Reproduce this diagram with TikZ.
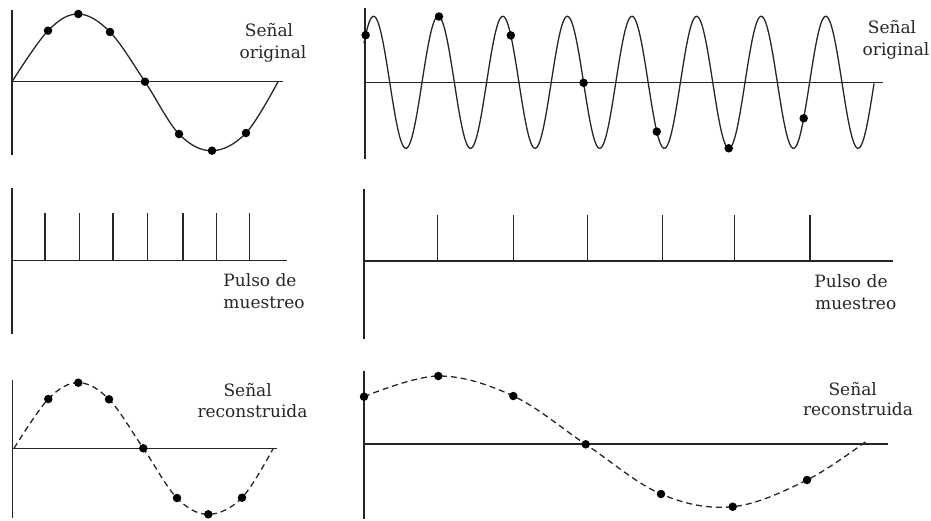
\documentclass[tikz,border=0pt]{standalone}
\usepackage{fontspec}
\setmainfont{DejaVu Serif}
\begin{document}
\begin{tikzpicture}[x=1pt,y=-1pt,
  axis/.style={line width=1.3pt, draw=black!85},
  wave/.style={line width=1.3pt, draw=black!85, line join=round, line cap=round},
  dwave/.style={line width=1.3pt, draw=black!85, dash pattern=on 6pt off 4pt},
  pulse/.style={line width=1.3pt, draw=black!85},
  dot/.style={circle, fill=black, inner sep=0pt, minimum size=8.5pt},
  lbl/.style={font=\fontsize{17}{21}\selectfont, inner sep=0pt, anchor=base, text=black!85}]
\useasboundingbox (0,0) rectangle (931,520);

% ---------- top left: original signal ----------
\draw[axis] (12,10) -- (12,155);
\draw[axis] (12,81.7) -- (283,81.7);
\draw[wave] plot[smooth, tension=0.6] coordinates {(12,81.7) (48,30.7) (78.3,14) (110,32) (145,81.7) (179,134) (212,150.7) (246,133) (278,81.7)};
\foreach \i/\xx/\yy in {1/48/30.7,2/78.3/14,3/110/32,4/145/81.7,5/179/134,6/212/150.7,7/246/133}
  \node[dot] (tl\i) at (\xx,\yy) {};
\node[lbl] (tlA) at (269,36.5) {Señal};
\node[lbl] (tlB) at (273,58) {original};

% ---------- top right: original signal (high frequency) ----------
\draw[axis] (365,8) -- (365,159);
\draw[axis] (365,82.3) -- (882.7,82.3);
\draw[wave] plot[domain=364:874, samples=600] (\x, {82.3-66*sin((\x-365.5)*5.5728+45)});
\foreach \i/\xx in {1/365.6,2/439,3/510.8,4/583.6,5/656.8,6/728.7,7/803.7}
  \node[dot] (tr\i) at (\xx, {82.3-66*sin((\xx-365.5)*5.5728+45)}) {};
\node[lbl] (trA) at (892,33.5) {Señal};
\node[lbl] (trB) at (896,55) {original};

% ---------- middle left: sampling pulses ----------
\draw[axis] (12,188.3) -- (12,334);
\draw[axis] (12,260.7) -- (287,260.7);
\foreach \i/\xx in {1/45,2/79.3,3/113,4/147.7,5/183,6/216.7,7/249.3}
  \draw[pulse] (\xx,260.7) -- (\xx,213.3);
\node[lbl] (mlA) at (260,286.5) {Pulso de};
\node[lbl] (mlB) at (264,308.5) {muestreo};

% ---------- middle right: sampling pulses ----------
\draw[axis] (364,189) -- (364,339);
\draw[axis] (364,261) -- (892.7,261);
\foreach \i/\xx in {1/437.7,2/513.3,3/587.3,4/662.7,5/734.7,6/810}
  \draw[pulse] (\xx,261) -- (\xx,215);
\node[lbl] (mrA) at (851,287.5) {Pulso de};
\node[lbl] (mrB) at (855.7,309.5) {muestreo};

% ---------- bottom left: reconstructed signal ----------
\draw[axis] (12.5,380) -- (12.5,518);
\draw[axis] (12.5,448.3) -- (276.7,448.3);
\draw[dwave] plot[smooth, tension=0.6] coordinates {(14,448.3) (48.3,399) (78.3,382.7) (109,399.3) (143.3,448.3) (177,498) (208.3,514.3) (242,497.7) (273.3,448.3)};
\foreach \i/\xx/\yy in {1/48.3/399,2/78.3/382.7,3/109/399.3,4/143.3/448.3,5/177/498,6/208.3/514.3,7/242/497.7}
  \node[dot] (bl\i) at (\xx,\yy) {};
\node[lbl] (blA) at (247.7,396.5) {Señal};
\node[lbl] (blB) at (252.5,417) {reconstruida};

% ---------- bottom right: reconstructed (aliased) signal ----------
\draw[axis] (364,370.7) -- (364,519);
\draw[axis] (364,444) -- (888,444);
\draw[dwave] plot[smooth, tension=0.6] coordinates {(364,396.7) (438.3,376) (513.3,396) (585.7,444.3) (661,494) (732.7,506.7) (807,480) (868,440)};
\foreach \i/\xx/\yy in {1/364/396.7,2/438.3/376,3/513.3/396,4/585.7/444.3,5/661/494,6/732.7/506.7,7/807/480}
  \node[dot] (br\i) at (\xx,\yy) {};
\node[lbl] (brA) at (852.7,395) {Señal};
\node[lbl] (brB) at (858,415.5) {reconstruida};
\end{tikzpicture}
\end{document}
